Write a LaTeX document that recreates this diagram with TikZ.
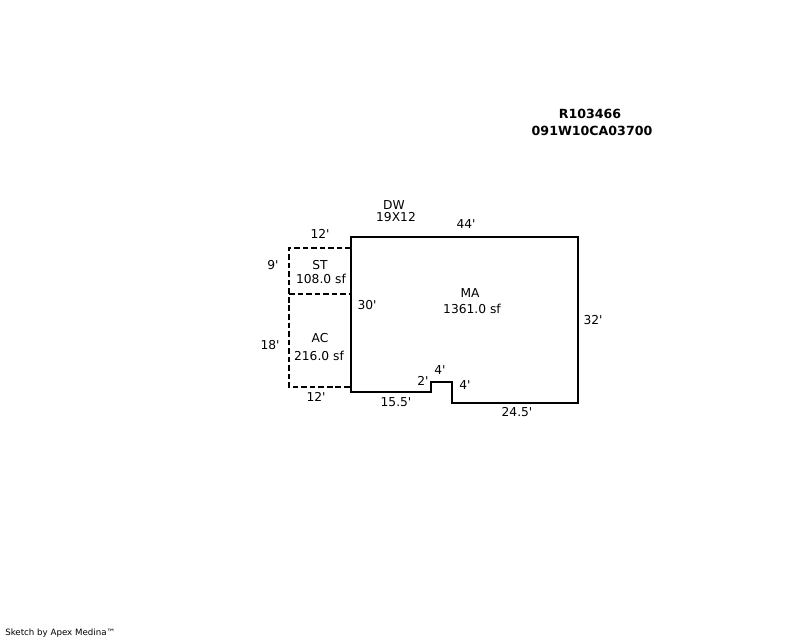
\documentclass[tikz,border=0pt]{standalone}
\usepackage{fontspec}
\newfontfamily\plainsans{DejaVu Sans}
\tikzset{
  lbl/.style={inner sep=0pt,font=\plainsans\fontsize{9.2}{11}\selectfont,align=center},
  idlbl/.style={inner sep=0pt,font=\plainsans\fontsize{9.45}{11}\selectfont\bfseries},
  footlbl/.style={inner sep=0pt,font=\plainsans\fontsize{6.5}{8}\selectfont,anchor=west},
  wall/.style={line width=1.8pt,line join=miter,black},
  dashwall/.style={line width=1.8pt,black,dash pattern=on 4.2pt off 2.2pt}
}
\begin{document}
\begin{tikzpicture}[x=0.75pt,y=-0.75pt]
\useasboundingbox[fill=white] (0,0) rectangle (800,640);
\draw[dashwall] (351,248) -- (289,248) -- (289,387) -- (351,387);
\draw[dashwall] (289,294) -- (351,294);
\draw[wall] (351,237) -- (578,237) -- (578,403) -- (452,403) -- (452,382) -- (431,382) -- (431,392) -- (351,392) -- cycle;
\node[idlbl] (id1) at (590,114) {R103466};
\node[idlbl] (id2) at (592,131) {091W10CA03700};
\node[lbl] (dw) at (394,205) {DW};
\node[lbl] (dws) at (396,217) {19X12};
\node[lbl] (t44) at (466,224) {44'};
\node[lbl] (t12a) at (320,234) {12'};
\node[lbl] (t9) at (273,265) {9'};
\node[lbl] (st) at (320,265) {ST};
\node[lbl] (sta) at (321,279) {108.0 sf};
\node[lbl] (t30) at (367,305) {30'};
\node[lbl] (ma) at (470,293) {MA};
\node[lbl] (maa) at (472,309) {1361.0 sf};
\node[lbl] (t32) at (593,320) {32'};
\node[lbl] (t18) at (270,345) {18'};
\node[lbl] (ac) at (320,338) {AC};
\node[lbl] (aca) at (319,356) {216.0 sf};
\node[lbl] (t4a) at (440,370) {4'};
\node[lbl] (t2) at (423,381) {2'};
\node[lbl] (t4b) at (465,385) {4'};
\node[lbl] (t12b) at (316,397) {12'};
\node[lbl] (t155) at (396,402) {15.5'};
\node[lbl] (t245) at (517,412) {24.5'};
\node[footlbl] (foot) at (5,633) {Sketch by Apex Medina™};
\end{tikzpicture}
\end{document}
